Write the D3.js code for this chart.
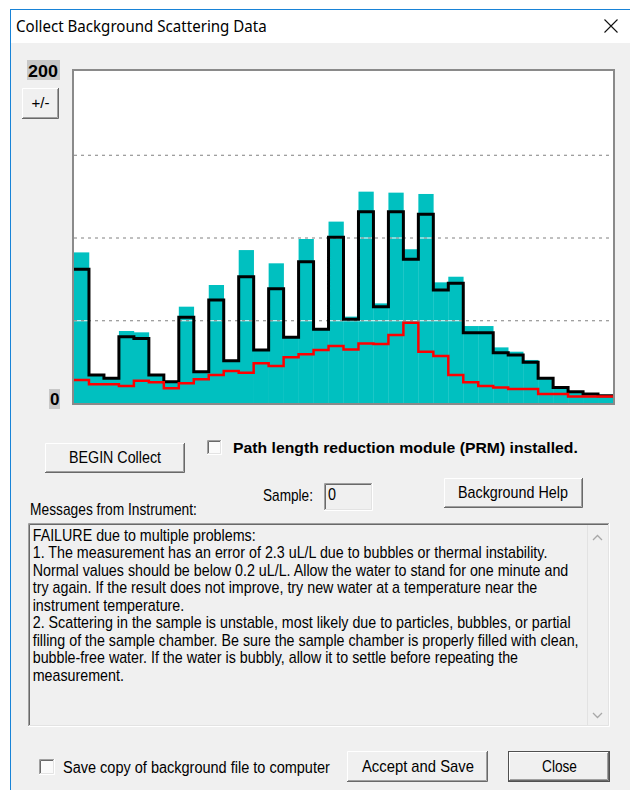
<!DOCTYPE html>
<html>
<head>
<meta charset="utf-8">
<script src="https://cdn.jsdelivr.net/npm/d3@7"></script>
<style>
  body { margin: 0; background: #fff; }
  svg { display: block; }
</style>
</head>
<body>
<svg id="dlg"></svg>
<script>
// histogram bins (channel number)
const bins = [1, 2, 3, 4, 5, 6, 7, 8, 9, 10, 11, 12, 13, 14, 15, 16, 17, 18,
              19, 20, 21, 22, 23, 24, 25, 26, 27, 28, 29, 30, 31, 32, 33, 34, 35, 36];
// cyan fill: highest counts seen so far
const peakCounts = [91.0, 16.9, 14.9, 43.5, 42.7, 16.9, 12.9, 58.2, 18.9, 71.3, 25.6, 92.4,
                    32.0, 84.4, 39.7, 99.1, 44.5, 109.6, 52.2, 127.7, 60.2, 127.1, 92.9, 126.3,
                    72.9, 76.3, 46.5, 46.5, 33.6, 31.0, 26.0, 14.9, 9.3, 6.8, 5.4, 4.4];
// black step: current scan
const currentCounts = [80.8, 16.9, 14.9, 40.1, 38.9, 16.9, 12.9, 51.8, 18.9, 62.2, 25.6, 76.3,
                       32.0, 69.1, 39.7, 85.4, 44.5, 100.1, 50.6, 115.6, 58.2, 115.6, 86.8, 114.0,
                       68.3, 72.3, 42.5, 42.5, 30.4, 29.0, 24.6, 14.9, 9.3, 6.8, 5.4, 4.4];
// red step: reference background
const refCounts = [13.9, 11.3, 11.3, 10.3, 13.5, 12.5, 8.9, 11.9, 14.3, 16.9, 19.3, 18.3,
                   24.0, 22.4, 27.6, 29.4, 32.0, 34.4, 32.4, 36.0, 35.6, 41.1, 48.5, 31.0,
                   28.4, 16.9, 12.5, 10.3, 9.3, 8.5, 8.5, 5.4, 5.4, 3.9, 3.9, 3.9];
const yLabels = [0, 200];
const gridValues = [50, 100, 150];

const messageLines = [
  "FAILURE due to multiple problems:",
  "1. The measurement has an error of 2.3 uL/L due to bubbles or thermal instability.",
  "Normal values should be below 0.2 uL/L. Allow the water to stand for one minute and",
  "try again. If the result does not improve, try new water at a temperature near the",
  "instrument temperature.",
  "2. Scattering in the sample is unstable, most likely due to particles, bubbles, or partial",
  "filling of the sample chamber. Be sure the sample chamber is properly filled with clean,",
  "bubble-free water. If the water is bubbly, allow it to settle before repeating the",
  "measurement."
];

const svg = d3.select("#dlg").attr("width", 630).attr("height", 790);

// window frame
svg.append("rect").attr("width", 630).attr("height", 790).attr("fill", "#fff");
svg.append("rect").attr("x", 10.5).attr("y", 9.5).attr("width", 640).attr("height", 800)
  .attr("fill", "#fff").attr("stroke", "#1883d7");
svg.append("rect").attr("x", 11).attr("y", 43).attr("width", 619).attr("height", 747)
  .attr("fill", "#f0f0f0");
svg.append("path").attr("d", "M604.5,19.5L617.5,32.5M617.5,19.5L604.5,32.5")
  .attr("stroke", "#111").attr("stroke-width", 1.1);

// text that is squeezed sideways to the width it has in the dialog
function label(str, x, yb, size, target, opts = {}) {
  const t = svg.append("text")
    .attr("font-family", opts.family || "Liberation Sans")
    .attr("font-size", size)
    .attr("font-weight", opts.bold ? "bold" : null)
    .attr("fill", "#000")
    .text(str);
  const sx = opts.sx || target / t.node().getComputedTextLength();
  const x0 = opts.middle ? x - target / 2 : x;
  t.attr("transform", `translate(${x0},${yb}) scale(${sx},1)`);
  return sx;
}

function raised(x, y, w, h, isDefault) {
  const g = svg.append("g");
  g.append("rect").attr("x", x).attr("y", y).attr("width", w).attr("height", h).attr("fill", "#f0f0f0");
  if (isDefault) {
    g.append("rect").attr("x", x + .5).attr("y", y + .5).attr("width", w - 1).attr("height", h - 1)
      .attr("fill", "none").attr("stroke", "#505050");
    x += 1; y += 1; w -= 2; h -= 2;
  }
  g.append("path").attr("d", `M${x + .5},${y + h - 1}V${y + .5}H${x + w - 1}`).attr("stroke", "#fff").attr("fill", "none");
  g.append("path").attr("d", `M${x},${y + h - .5}H${x + w - .5}V${y}`).attr("stroke", "#696969").attr("fill", "none");
  g.append("path").attr("d", `M${x + 1},${y + h - 1.5}H${x + w - 1.5}V${y + 1}`).attr("stroke", "#a0a0a0").attr("fill", "none");
}

function sunken(x, y, w, h, fill) {
  const g = svg.append("g");
  g.append("rect").attr("x", x).attr("y", y).attr("width", w).attr("height", h).attr("fill", fill);
  g.append("path").attr("d", `M${x + .5},${y + h - 1}V${y + .5}H${x + w - 1}`).attr("stroke", "#a0a0a0").attr("fill", "none");
  g.append("path").attr("d", `M${x + 1.5},${y + h - 2}V${y + 1.5}H${x + w - 2}`).attr("stroke", "#696969").attr("fill", "none");
  g.append("path").attr("d", `M${x},${y + h - .5}H${x + w - .5}V${y}`).attr("stroke", "#fff").attr("fill", "none");
  g.append("path").attr("d", `M${x + 1},${y + h - 1.5}H${x + w - 1.5}V${y + 1}`).attr("stroke", "#e3e3e3").attr("fill", "none");
}

label("Collect Background Scattering Data", 16, 32, 16.5, 251, { family: "Noto Sans" });

// ---- chart ----
const x = d3.scaleBand().domain(bins).range([74, 613]);
const y = d3.scaleLinear().domain([0, 200]).range([403, 72]);

svg.append("rect").attr("x", 73).attr("y", 70).attr("width", 541).attr("height", 334).attr("fill", "#fff");
svg.append("clipPath").attr("id", "plotClip")
  .append("rect").attr("x", 74).attr("y", 71).attr("width", 539).attr("height", 332);
const plot = svg.append("g").attr("clip-path", "url(#plotClip)");

plot.selectAll("rect.peak").data(bins).join("rect")
  .attr("class", "peak")
  .attr("x", d => x(d))
  .attr("y", (d, i) => y(peakCounts[i]))
  .attr("width", x.bandwidth() + 0.3)
  .attr("height", (d, i) => y(0) - y(peakCounts[i]))
  .attr("fill", "#00c0c0");

// dotted gridlines, gaps filled white like an opaque GDI pen
function gridLayer(stroke, dash) {
  const g = plot.append("g").attr("transform", "translate(74,0)")
    .call(d3.axisLeft(y).tickValues(gridValues).tickSize(-539).tickFormat(""));
  g.select(".domain").remove();
  g.selectAll(".tick line").attr("stroke", stroke).attr("stroke-dasharray", dash);
}
gridLayer("#ffffff", null);
gridLayer("#808080", "3,4");

function stepPath(values) {
  const pts = bins.map((b, i) => [x(b), y(values[i])]);
  pts.push([613, y(values[values.length - 1])]);
  return d3.line().curve(d3.curveStepAfter)(pts);
}
plot.append("path").attr("d", stepPath(currentCounts))
  .attr("fill", "none").attr("stroke", "#000").attr("stroke-width", 3);
plot.append("path").attr("d", stepPath(refCounts))
  .attr("fill", "none").attr("stroke", "#ff0000").attr("stroke-width", 2.5);

svg.append("rect").attr("x", 73).attr("y", 70).attr("width", 541).attr("height", 334)
  .attr("fill", "none").attr("stroke", "#8a8a8a").attr("stroke-width", 2);

// scale labels on grey chips
svg.append("rect").attr("x", 27).attr("y", y(200) - 12).attr("width", 33).attr("height", 20).attr("fill", "#c8c8c8");
label(String(yLabels[1]), 28, y(200) + 5, 17, 30, { bold: true });
svg.append("rect").attr("x", 49).attr("y", y(0) - 14).attr("width", 11).attr("height", 20).attr("fill", "#c8c8c8");
label(String(yLabels[0]), 50, y(0) + 2, 17, 9.5, { bold: true });

raised(22, 88, 37, 31);
label("+/-", 40.5, 108, 14, 18, { middle: true });

// ---- controls ----
raised(45, 443, 140, 30);
label("BEGIN Collect", 115, 463, 16, 92, { middle: true });

sunken(207, 440, 15, 15, "#fafafa");
label("Path length reduction module (PRM) installed.", 233, 453, 15.5, 345, { bold: true });

label("Messages from Instrument:", 30, 515, 16, 167);
label("Sample:", 263, 500.5, 16, 50);
sunken(324, 483, 49, 28, "#f0f0f0");
label("0", 328, 500, 16, 8);
raised(444, 478, 139, 30);
label("Background Help", 513, 498, 16, 110, { middle: true });

// message box
sunken(28, 523, 582, 204, "#f0f0f0");
svg.append("path").attr("d", "M587.5,525V725").attr("stroke", "#e2e2e2");
svg.append("path").attr("d", "M593,540L597.5,535.5L602,540M593,713L597.5,717.5L602,713")
  .attr("fill", "none").attr("stroke", "#a8a8a8").attr("stroke-width", 1.3);

const tmp = svg.append("text").attr("font-family", "Liberation Sans").attr("font-size", 16).text(messageLines[1]);
const msgScale = 515 / tmp.node().getComputedTextLength();
tmp.remove();
messageLines.forEach((line, i) => {
  label(line, 32.7, 540.7 + i * 17.5, 16, 0, { sx: msgScale });
});

// bottom row
sunken(39, 759, 16, 16, "#fafafa");
label("Save copy of background file to computer", 63, 773, 16, 267);
raised(347, 751, 141, 31);
label("Accept and Save", 418, 772, 16, 112, { middle: true });
raised(508, 751, 102, 31, true);
label("Close", 559.5, 772, 16, 35, { middle: true });
</script>
</body>
</html>
